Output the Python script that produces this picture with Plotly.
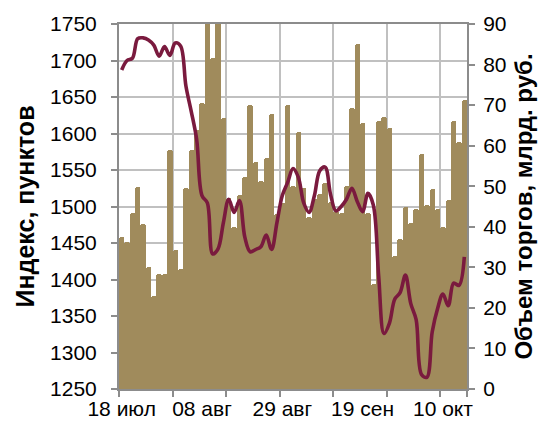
import plotly.graph_objects as go
import pandas as pd

# Trading days 18 Jul 2011 - 14 Oct 2011
dates = pd.bdate_range("2011-07-18", "2011-10-14").strftime("%Y-%m-%d").tolist()

tick_dates = ["2011-07-18", "2011-08-08", "2011-08-29", "2011-09-19", "2011-10-10"]
tick_labels = ["18 июл", "08 авг", "29 авг", "19 сен", "10 окт"]

# Trading volume, bln RUB (right axis)
volume = [37.5, 36.3, 43.3, 49.9, 40.6, 30.0, 22.9, 28.4, 28.4, 58.9,
          34.3, 29.5, 49.5, 58.9, 63.9, 70.4, 98.0, 81.5, 96.0, 66.7,
          47.0, 40.0, 47.8, 52.2, 70.0, 56.0, 51.2, 57.0, 67.7, 43.1,
          45.8, 70.0, 50.0, 63.4, 49.5, 42.5, 46.8, 48.2, 50.7, 46.2,
          44.0, 43.5, 50.1, 69.4, 85.1, 65.6, 43.5, 26.0, 66.0, 67.1,
          64.4, 32.8, 37.0, 45.0, 41.0, 44.5, 58.0, 45.4, 49.4, 44.5,
          40.0, 46.6, 66.2, 61.0, 71.2]

# Index, points (left axis)
index_vals = [1687, 1700, 1703, 1730, 1731, 1728, 1721, 1706, 1719, 1707,
              1724, 1720, 1665, 1630, 1592, 1515, 1505, 1435, 1442, 1478,
              1510, 1492, 1508, 1458, 1438, 1441, 1445, 1461, 1441, 1478,
              1515, 1533, 1552, 1540, 1505, 1492, 1515, 1549, 1554, 1517,
              1494, 1500, 1510, 1525, 1507, 1493, 1518, 1502, 1405, 1326,
              1340, 1373, 1382, 1406, 1367, 1345, 1270, 1266, 1328, 1360,
              1380, 1364, 1395, 1392, 1431]

n = len(dates)
pos = list(range(n))
pos_of = {d: i for i, d in enumerate(dates)}

BAR = "#A08B5C"
LINE = "#7A1A3E"
GRID = "#C0C0C0"
AXIS = "#8C8C8C"
FONT = "Liberation Sans"
TICK_SIZE = 21
TITLE_SIZE = 25

fig = go.Figure()
fig.add_trace(go.Bar(x=pos, y=volume, xaxis="x", yaxis="y",
                     marker=dict(color=BAR, line=dict(width=0), cornerradius=3),
                     name="Объем торгов"))
fig.add_trace(go.Scatter(x=pos, y=index_vals, xaxis="x2", yaxis="y2",
                         mode="lines", line=dict(color=LINE, width=3.6, shape="spline", smoothing=1),
                         name="Индекс"))

xr = [-0.5, n - 0.5]
fig.update_layout(
    width=546, height=439,
    margin=dict(l=119, r=79, t=24, b=50, autoexpand=False),
    paper_bgcolor="white", plot_bgcolor="white",
    showlegend=False, bargap=0,
    font=dict(family=FONT, size=TICK_SIZE, color="black"),
    xaxis=dict(range=xr, tickmode="array", automargin=False,
               tickvals=[i - 0.5 for i in range(0, n, 10)] + [n - 0.5],
               ticktext=[""] * (len(range(0, n, 10)) + 1),
               ticks="outside", ticklen=6, tickwidth=1.5, tickcolor=AXIS,
               showgrid=True, gridcolor=GRID, gridwidth=1.5,
               showline=True, linecolor=AXIS, linewidth=2, mirror=True,
               zeroline=False),
    xaxis2=dict(range=xr, overlaying="x", anchor="y", side="bottom", automargin=False,
                tickmode="array", tickvals=[pos_of[d] for d in tick_dates],
                ticktext=tick_labels, ticks="", showgrid=False, showline=False,
                zeroline=False, tickfont=dict(size=TICK_SIZE), ticklabelstandoff=5),
    yaxis=dict(range=[0, 90], dtick=10, side="right", anchor="x", automargin=False,
               ticks="outside", ticklen=6, tickwidth=1.5, tickcolor=AXIS,
               showgrid=False, showline=True, linecolor=AXIS, linewidth=2,
               zeroline=False, tickfont=dict(size=TICK_SIZE), ticklabelstandoff=4,
               title=dict(text="Объем торгов, млрд. руб.", standoff=10,
                          font=dict(size=24, weight="bold"))),
    yaxis2=dict(range=[1250, 1750], dtick=50, side="left", overlaying="y",
                anchor="x", automargin=False,
                ticks="outside", ticklen=6, tickwidth=1.5, tickcolor=AXIS,
                showgrid=True, gridcolor=GRID, gridwidth=1.5,
                showline=True, linecolor=AXIS, linewidth=2,
                zeroline=False, tickfont=dict(size=TICK_SIZE), ticklabelstandoff=10,
                title=dict(text="Индекс, пунктов", standoff=8,
                           font=dict(size=TITLE_SIZE, weight="bold"))),
)

fig.write_html("out.html", config={"displayModeBar": False},
               post_script="document.body.style.margin='0';document.body.style.overflow='hidden';")
